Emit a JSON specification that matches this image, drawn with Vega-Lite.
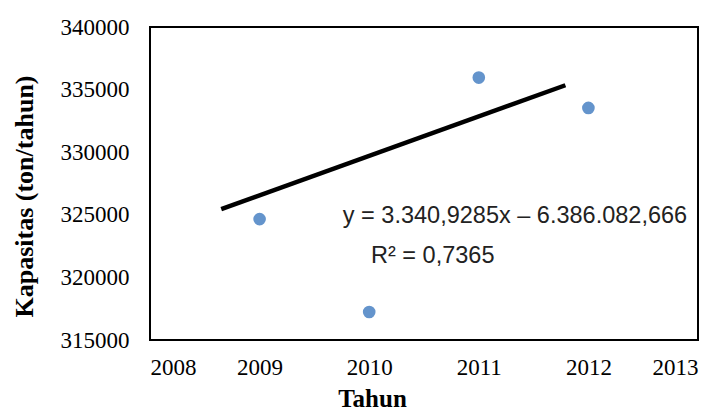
{
  "$schema": "https://vega.github.io/schema/vega-lite/v6.json",
  "width": 548,
  "height": 313,
  "autosize": {"type": "none"},
  "padding": {"left": 150, "top": 27, "right": 30, "bottom": 75},
  "background": "white",
  "config": {
    "view": {"stroke": "black", "strokeWidth": 2},
    "axis": {"grid": false, "ticks": false, "domain": false, "labelFont": "Liberation Serif", "labelFontSize": 23, "labelColor": "black", "titleFont": "Liberation Serif", "titleFontSize": 25, "titleFontWeight": "bold", "titleColor": "black"}
  },
  "layer": [
    {
      "data": {"values": [{"Tahun": 2008.65, "Kapasitas": 325454}, {"Tahun": 2011.79, "Kapasitas": 335348}]},
      "mark": {"type": "line", "color": "black", "strokeWidth": 4.5, "strokeCap": "butt"},
      "encoding": {
        "x": {"field": "Tahun", "type": "quantitative", "scale": {"domain": [2008, 2013], "nice": false, "zero": false},
              "axis": {"values": [2008, 2009, 2010, 2011, 2012, 2013], "format": "d", "labelPadding": 16, "title": "Tahun", "titleX": 222, "titleY": 66, "titleBaseline": "alphabetic"}},
        "y": {"field": "Kapasitas", "type": "quantitative", "scale": {"domain": [315000, 340000], "nice": false, "zero": false},
              "axis": {"values": [315000, 320000, 325000, 330000, 335000, 340000], "format": "d", "labelPadding": 21, "title": "Kapasitas (ton/tahun)", "titlePadding": 23, "titleY": 169, "titleFontSize": 26}}
      }
    },
    {
      "data": {"values": [
        {"Tahun": 2009, "Kapasitas": 324655},
        {"Tahun": 2010, "Kapasitas": 317235},
        {"Tahun": 2011, "Kapasitas": 335962},
        {"Tahun": 2012, "Kapasitas": 333537}
      ]},
      "mark": {"type": "point", "filled": true, "opacity": 1, "size": 160, "color": "#6494CC"},
      "encoding": {
        "x": {"field": "Tahun", "type": "quantitative"},
        "y": {"field": "Kapasitas", "type": "quantitative"}
      }
    },
    {
      "data": {"values": [
        {"label": "y = 3.340,9285x – 6.386.082,666", "Tahun": 2011.33, "Kapasitas": 324336},
        {"label": "R² = 0,7365", "Tahun": 2010.58, "Kapasitas": 321150}
      ]},
      "mark": {"type": "text", "font": "Liberation Sans", "fontSize": 23.5, "color": "#222222", "baseline": "alphabetic", "align": "center"},
      "encoding": {
        "x": {"field": "Tahun", "type": "quantitative"},
        "y": {"field": "Kapasitas", "type": "quantitative"},
        "text": {"field": "label"}
      }
    }
  ]
}
